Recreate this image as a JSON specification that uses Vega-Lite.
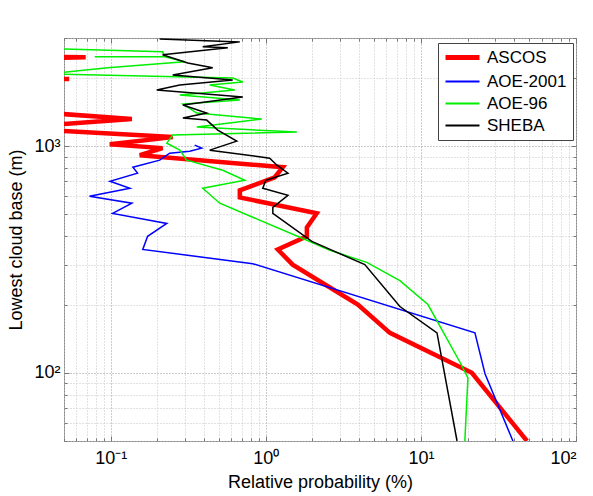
{
  "$schema": "https://vega.github.io/schema/vega-lite/v6.json",
  "width": 512,
  "height": 403,
  "autosize": {"type": "none"},
  "padding": {"left": 64, "top": 38, "right": 17, "bottom": 55},
  "background": "white",
  "config": {
    "view": {"stroke": "#888888", "strokeWidth": 1},
    "font": "Liberation Sans",
    "axis": {"domain": false, "ticks": true, "tickColor": "#777777", "tickWidth": 1, "grid": true, "gridDash": [1, 2], "gridWidth": 1,
             "labelFont": "Liberation Sans", "labelFontSize": 18, "labelColor": "black",
             "titleFont": "Liberation Sans", "titleFontSize": 18, "titleFontWeight": "normal", "titleColor": "black"}
  },
  "data": {"values": [
    {"s":"ASCOS","p":1,"i":1,"x":48.3,"y":50},
    {"s":"ASCOS","p":1,"i":2,"x":21.3,"y":100},
    {"s":"ASCOS","p":1,"i":3,"x":6.31,"y":150},
    {"s":"ASCOS","p":1,"i":4,"x":3.92,"y":200},
    {"s":"ASCOS","p":1,"i":5,"x":1.49,"y":300},
    {"s":"ASCOS","p":1,"i":6,"x":1.195,"y":350},
    {"s":"ASCOS","p":1,"i":7,"x":1.84,"y":400},
    {"s":"ASCOS","p":1,"i":8,"x":1.84,"y":438},
    {"s":"ASCOS","p":1,"i":9,"x":2.13,"y":505},
    {"s":"ASCOS","p":1,"i":10,"x":0.68,"y":594},
    {"s":"ASCOS","p":1,"i":11,"x":0.68,"y":638},
    {"s":"ASCOS","p":1,"i":12,"x":1.143,"y":729},
    {"s":"ASCOS","p":1,"i":13,"x":1.287,"y":807},
    {"s":"ASCOS","p":1,"i":14,"x":0.154,"y":912},
    {"s":"ASCOS","p":1,"i":15,"x":0.216,"y":980},
    {"s":"ASCOS","p":1,"i":16,"x":0.0986,"y":1020},
    {"s":"ASCOS","p":1,"i":17,"x":0.251,"y":1096},
    {"s":"ASCOS","p":1,"i":18,"x":0.04,"y":1177},
    {"s":"ASCOS","p":1,"i":19,"x":0.04,"y":1239},
    {"s":"ASCOS","p":1,"i":20,"x":0.137,"y":1316},
    {"s":"ASCOS","p":1,"i":21,"x":0.04,"y":1400},
    {"s":"ASCOS","p":2,"i":22,"x":0.03,"y":1960},
    {"s":"ASCOS","p":2,"i":23,"x":0.054,"y":1978},
    {"s":"ASCOS","p":2,"i":24,"x":0.03,"y":1995},
    {"s":"ASCOS","p":3,"i":25,"x":0.03,"y":2440},
    {"s":"ASCOS","p":3,"i":26,"x":0.069,"y":2465},
    {"s":"ASCOS","p":3,"i":27,"x":0.03,"y":2490},

    {"s":"AOE-2001","p":1,"i":1,"x":39.2,"y":50},
    {"s":"AOE-2001","p":1,"i":2,"x":25.9,"y":99},
    {"s":"AOE-2001","p":1,"i":3,"x":22.3,"y":150},
    {"s":"AOE-2001","p":1,"i":4,"x":0.824,"y":303},
    {"s":"AOE-2001","p":1,"i":5,"x":0.161,"y":350},
    {"s":"AOE-2001","p":1,"i":6,"x":0.173,"y":400},
    {"s":"AOE-2001","p":1,"i":7,"x":0.23,"y":456},
    {"s":"AOE-2001","p":1,"i":8,"x":0.103,"y":505},
    {"s":"AOE-2001","p":1,"i":9,"x":0.137,"y":560},
    {"s":"AOE-2001","p":1,"i":10,"x":0.073,"y":601},
    {"s":"AOE-2001","p":1,"i":11,"x":0.133,"y":652},
    {"s":"AOE-2001","p":1,"i":12,"x":0.099,"y":700},
    {"s":"AOE-2001","p":1,"i":13,"x":0.149,"y":760},
    {"s":"AOE-2001","p":1,"i":14,"x":0.139,"y":807},
    {"s":"AOE-2001","p":1,"i":15,"x":0.207,"y":867},
    {"s":"AOE-2001","p":1,"i":16,"x":0.24,"y":931},
    {"s":"AOE-2001","p":1,"i":17,"x":0.323,"y":950},
    {"s":"AOE-2001","p":1,"i":18,"x":0.386,"y":980},
    {"s":"AOE-2001","p":1,"i":19,"x":0.348,"y":1010},

    {"s":"AOE-96","p":1,"i":1,"x":19.2,"y":50},
    {"s":"AOE-96","p":1,"i":2,"x":20.1,"y":95},
    {"s":"AOE-96","p":1,"i":3,"x":17.9,"y":111},
    {"s":"AOE-96","p":1,"i":4,"x":11.1,"y":200},
    {"s":"AOE-96","p":1,"i":5,"x":7.32,"y":255},
    {"s":"AOE-96","p":1,"i":6,"x":4.48,"y":307},
    {"s":"AOE-96","p":1,"i":7,"x":2.59,"y":347},
    {"s":"AOE-96","p":1,"i":8,"x":1.66,"y":396},
    {"s":"AOE-96","p":1,"i":9,"x":0.505,"y":560},
    {"s":"AOE-96","p":1,"i":10,"x":0.392,"y":652},
    {"s":"AOE-96","p":1,"i":11,"x":0.732,"y":707},
    {"s":"AOE-96","p":1,"i":12,"x":0.528,"y":783},
    {"s":"AOE-96","p":1,"i":13,"x":0.309,"y":867},
    {"s":"AOE-96","p":1,"i":14,"x":0.279,"y":960},
    {"s":"AOE-96","p":1,"i":15,"x":0.23,"y":1031},
    {"s":"AOE-96","p":1,"i":16,"x":0.251,"y":1119},
    {"s":"AOE-96","p":1,"i":17,"x":1.585,"y":1154},
    {"s":"AOE-96","p":1,"i":18,"x":0.359,"y":1214},
    {"s":"AOE-96","p":1,"i":19,"x":0.942,"y":1316},
    {"s":"AOE-96","p":1,"i":20,"x":0.359,"y":1400},
    {"s":"AOE-96","p":1,"i":21,"x":0.292,"y":1534},
    {"s":"AOE-96","p":1,"i":22,"x":0.68,"y":1599},
    {"s":"AOE-96","p":1,"i":23,"x":0.279,"y":1682},
    {"s":"AOE-96","p":1,"i":24,"x":0.631,"y":1769},
    {"s":"AOE-96","p":1,"i":25,"x":0.435,"y":1861},
    {"s":"AOE-96","p":1,"i":26,"x":0.711,"y":1918},
    {"s":"AOE-96","p":1,"i":27,"x":0.612,"y":1998},
    {"s":"AOE-96","p":1,"i":28,"x":0.04,"y":2085},
    {"s":"AOE-96","p":1,"i":29,"x":0.0957,"y":2215},
    {"s":"AOE-96","p":1,"i":30,"x":0.3,"y":2355},
    {"s":"AOE-96","p":1,"i":31,"x":0.223,"y":2478},
    {"s":"AOE-96","p":1,"i":32,"x":0.0789,"y":2478},
    {"s":"AOE-96","p":2,"i":33,"x":0.223,"y":2500},
    {"s":"AOE-96","p":2,"i":34,"x":0.216,"y":2606},
    {"s":"AOE-96","p":2,"i":35,"x":0.035,"y":2700},

    {"s":"SHEBA","p":1,"i":1,"x":17.1,"y":50},
    {"s":"SHEBA","p":1,"i":2,"x":12.7,"y":150},
    {"s":"SHEBA","p":1,"i":3,"x":7.32,"y":196},
    {"s":"SHEBA","p":1,"i":4,"x":4.35,"y":300},
    {"s":"SHEBA","p":1,"i":5,"x":1.98,"y":380},
    {"s":"SHEBA","p":1,"i":6,"x":1.11,"y":505},
    {"s":"SHEBA","p":1,"i":7,"x":1.11,"y":537},
    {"s":"SHEBA","p":1,"i":8,"x":1.39,"y":607},
    {"s":"SHEBA","p":1,"i":9,"x":0.956,"y":652},
    {"s":"SHEBA","p":1,"i":10,"x":1.0,"y":707},
    {"s":"SHEBA","p":1,"i":11,"x":1.39,"y":760},
    {"s":"SHEBA","p":1,"i":12,"x":1.18,"y":824},
    {"s":"SHEBA","p":1,"i":13,"x":1.06,"y":885},
    {"s":"SHEBA","p":1,"i":14,"x":0.435,"y":960},
    {"s":"SHEBA","p":1,"i":15,"x":0.65,"y":1052},
    {"s":"SHEBA","p":1,"i":16,"x":0.49,"y":1177},
    {"s":"SHEBA","p":1,"i":17,"x":0.416,"y":1303},
    {"s":"SHEBA","p":1,"i":18,"x":0.292,"y":1330},
    {"s":"SHEBA","p":1,"i":19,"x":0.416,"y":1400},
    {"s":"SHEBA","p":1,"i":20,"x":0.292,"y":1518},
    {"s":"SHEBA","p":1,"i":21,"x":0.711,"y":1648},
    {"s":"SHEBA","p":1,"i":22,"x":0.198,"y":1769},
    {"s":"SHEBA","p":1,"i":23,"x":0.279,"y":1861},
    {"s":"SHEBA","p":1,"i":24,"x":0.612,"y":1958},
    {"s":"SHEBA","p":1,"i":25,"x":0.251,"y":2060},
    {"s":"SHEBA","p":1,"i":26,"x":0.455,"y":2215},
    {"s":"SHEBA","p":1,"i":27,"x":0.314,"y":2328},
    {"s":"SHEBA","p":1,"i":28,"x":0.216,"y":2529},
    {"s":"SHEBA","p":1,"i":29,"x":0.569,"y":2716},
    {"s":"SHEBA","p":1,"i":30,"x":0.392,"y":2743},
    {"s":"SHEBA","p":1,"i":31,"x":0.68,"y":2884},
    {"s":"SHEBA","p":1,"i":32,"x":0.207,"y":2972}
  ]},
  "layer": [
    {
      "mark": {"type": "line", "clip": true, "strokeJoin": "miter", "strokeCap": "butt"},
      "encoding": {
        "x": {"field": "x", "type": "quantitative",
              "scale": {"type": "log", "domain": [0.05, 100], "nice": false},
              "axis": {"title": "Relative probability (%)", "titlePadding": 6, "labelPadding": 13,
                       "tickSize": {"condition": {"test": "datum.value == 0.1 || datum.value == 1 || datum.value == 10 || datum.value == 100", "value": -5}, "value": -3},
                       "values": [0.05,0.06,0.07,0.08,0.09,0.1,0.2,0.3,0.4,0.5,0.6,0.7,0.8,0.9,1,2,3,4,5,6,7,8,9,10,20,30,40,50,60,70,80,90,100],
                       "labelExpr": "datum.value == 0.1 ? '10⁻¹' : datum.value == 1 ? '10⁰' : datum.value == 10 ? '10¹' : datum.value == 100 ? '10²' : ''",
                       "gridColor": {"condition": {"test": "datum.value == 0.1 || datum.value == 1 || datum.value == 10", "value": "#999999"}, "value": "#c4c4c4"}}},
        "y": {"field": "y", "type": "quantitative",
              "scale": {"type": "log", "domain": [50, 3000], "nice": false},
              "axis": {"title": "Lowest cloud base (m)", "titlePadding": 8, "labelPadding": 9,
                       "tickSize": {"condition": {"test": "datum.value == 100 || datum.value == 1000", "value": -5}, "value": -3},
                       "values": [50,60,70,80,90,100,200,300,400,500,600,700,800,900,1000,2000,3000],
                       "labelExpr": "datum.value == 100 ? '10²' : datum.value == 1000 ? '10³' : ''",
                       "gridColor": {"condition": {"test": "datum.value == 100 || datum.value == 1000", "value": "#999999"}, "value": "#c4c4c4"}}},
        "color": {"field": "s", "type": "nominal",
                  "scale": {"domain": ["ASCOS", "AOE-2001", "AOE-96", "SHEBA"], "range": ["#ff0000", "#0000ff", "#00ee00", "#000000"]},
                  "legend": {"title": null, "orient": "none", "legendX": 374, "legendY": 5,
                             "symbolType": "M-1.7,0H1.7", "symbolSize": 400, "symbolStrokeWidth": 2,
                             "symbolOffset": 10, "labelOffset": 16, "rowPadding": 4, "padding": 6,
                             "labelFont": "Liberation Sans", "labelFontSize": 17, "labelColor": "black", "labelLimit": 300,
                             "strokeColor": "#444444", "fillColor": "white",
                             "encode": {"symbols": {"update": {"strokeWidth": {"signal": "datum.value === 'ASCOS' ? 5 : 2"}}}}}},
        "detail": {"field": "p", "type": "nominal"},
        "order": {"field": "i", "type": "quantitative"},
        "strokeWidth": {"condition": {"test": "datum.s === 'ASCOS'", "value": 4.5}, "value": 1.5}
      }
    },
    {
      "mark": {"type": "line", "clip": true, "opacity": 0},
      "encoding": {
        "x": {"field": "x", "type": "quantitative",
              "axis": {"orient": "top", "title": null, "labels": false, "grid": false,
                       "tickSize": {"condition": {"test": "datum.value == 0.1 || datum.value == 1 || datum.value == 10 || datum.value == 100", "value": -5}, "value": -3},
                       "values": [0.05,0.06,0.07,0.08,0.09,0.1,0.2,0.3,0.4,0.5,0.6,0.7,0.8,0.9,1,2,3,4,5,6,7,8,9,10,20,30,40,50,60,70,80,90,100]}},
        "y": {"field": "y", "type": "quantitative",
              "axis": {"orient": "right", "title": null, "labels": false, "grid": false,
                       "tickSize": {"condition": {"test": "datum.value == 100 || datum.value == 1000", "value": -5}, "value": -3},
                       "values": [50,60,70,80,90,100,200,300,400,500,600,700,800,900,1000,2000,3000]}},
        "detail": {"field": "s", "type": "nominal"}
      }
    }
  ],
  "resolve": {"axis": {"x": "independent", "y": "independent"}}
}
